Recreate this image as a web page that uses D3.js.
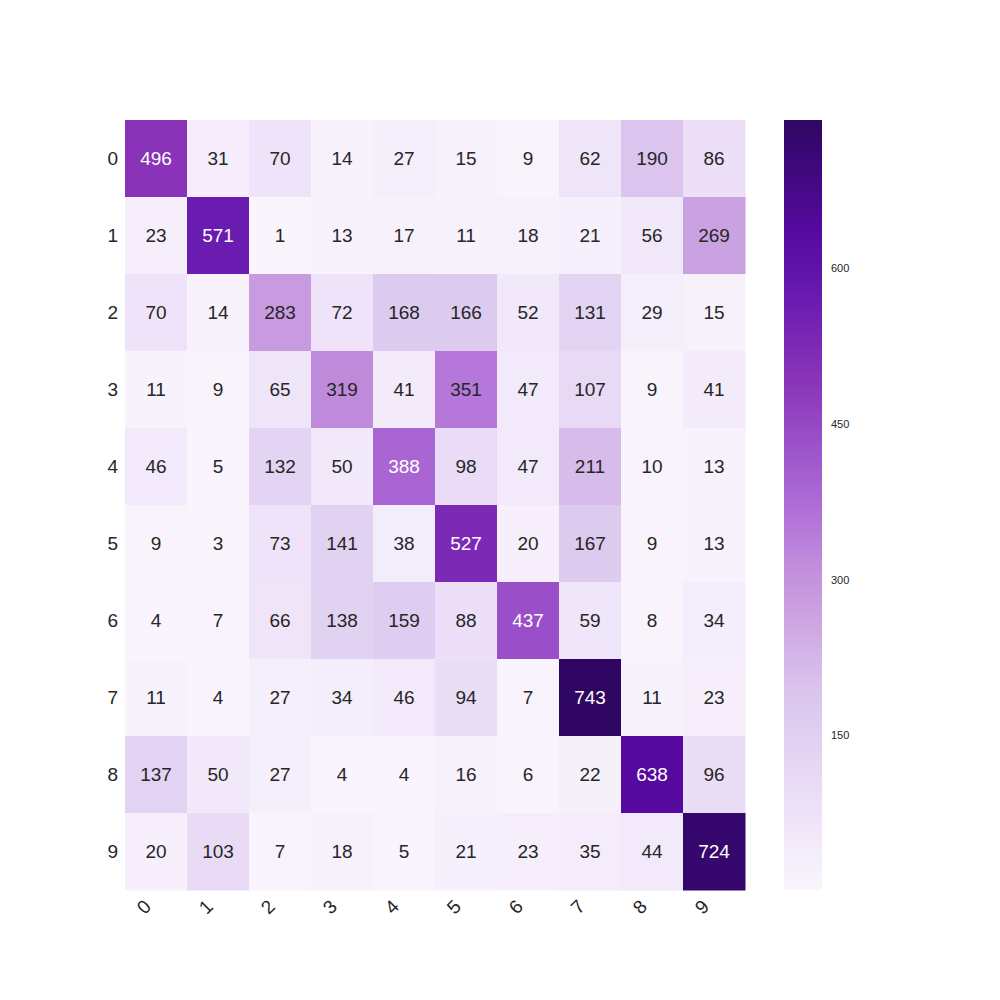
<!DOCTYPE html>
<html>
<head>
<meta charset="utf-8">
<script src="https://cdn.jsdelivr.net/npm/d3@7"></script>
<style>
  body { margin: 0; background: #fff; }
  text { font-family: "Liberation Sans", Arial, sans-serif; }
</style>
</head>
<body>
<div id="chart"></div>
<script>
const classes = ['0', '1', '2', '3', '4', '5', '6', '7', '8', '9']
const matrix = [
  [496, 31, 70, 14, 27, 15, 9, 62, 190, 86],
  [23, 571, 1, 13, 17, 11, 18, 21, 56, 269],
  [70, 14, 283, 72, 168, 166, 52, 131, 29, 15],
  [11, 9, 65, 319, 41, 351, 47, 107, 9, 41],
  [46, 5, 132, 50, 388, 98, 47, 211, 10, 13],
  [9, 3, 73, 141, 38, 527, 20, 167, 9, 13],
  [4, 7, 66, 138, 159, 88, 437, 59, 8, 34],
  [11, 4, 27, 34, 46, 94, 7, 743, 11, 23],
  [137, 50, 27, 4, 4, 16, 6, 22, 638, 96],
  [20, 103, 7, 18, 5, 21, 23, 35, 44, 724]
]
const colorbarTicks = [150, 300, 450, 600]

const width = 1000
const height = 1000
const margin = { left: 125, top: 120, right: 255, bottom: 110 }
const cbar = { x: 784, width: 38 }

const flat = matrix.flat()
const vmin = d3.min(flat)
const vmax = d3.max(flat)

// colour stops (fraction of range -> colour)
const stopVals = [0, 0.074, 0.115, 0.225, 0.255, 0.361, 0.38, 0.429, 0.472, 0.522, 0.667, 0.768, 0.858, 1]
const stopCols = ['#faf5fd', '#f0e7f9', '#ecdff7', '#dccbef', '#dbc5ee', '#cba2e1', '#c89ae0',
  '#c08adb', '#b577da', '#a865d3', '#8833b8', '#6a1bb0', '#55099e', '#2f0762']
const color = d3.scaleLinear()
  .domain(stopVals.map(t => vmin + t * (vmax - vmin)))
  .range(stopCols)
  .interpolate(d3.interpolateRgb)
  .clamp(true)

const svg = d3.select('#chart').append('svg')
  .attr('width', width)
  .attr('height', height)

const x = d3.scaleBand()
  .domain(classes)
  .range([margin.left, width - margin.right])
const y = d3.scaleBand()
  .domain(classes)
  .range([margin.top, height - margin.bottom])

const cells = svg.append('g')
  .selectAll('g')
  .data(flat.map((v, i) => ({ r: classes[Math.floor(i / 10)], c: classes[i % 10], v })))
  .join('g')

cells.append('rect')
  .attr('x', d => x(d.c))
  .attr('y', d => y(d.r))
  .attr('width', x.bandwidth() + 0.5)
  .attr('height', y.bandwidth() + 0.5)
  .attr('fill', d => color(d.v))

const lum = c => {
  const rgb = d3.rgb(c)
  const f = v => { v /= 255; return v <= 0.03928 ? v / 12.92 : Math.pow((v + 0.055) / 1.055, 2.4) }
  return 0.2126 * f(rgb.r) + 0.7152 * f(rgb.g) + 0.0722 * f(rgb.b)
}

cells.append('text')
  .attr('x', d => x(d.c) + x.bandwidth() / 2)
  .attr('y', d => y(d.r) + y.bandwidth() / 2)
  .attr('text-anchor', 'middle')
  .attr('dominant-baseline', 'central')
  .style('font-size', '19px')
  .attr('fill', d => lum(color(d.v)) > 0.25 ? '#262626' : '#ffffff')
  .text(d => d.v)

// y labels
svg.append('g')
  .selectAll('text')
  .data(classes)
  .join('text')
  .attr('x', margin.left - 7)
  .attr('y', d => y(d) + y.bandwidth() / 2)
  .attr('text-anchor', 'end')
  .attr('dominant-baseline', 'central')
  .style('font-size', '19px')
  .attr('fill', '#262626')
  .text(d => d)

// x labels, rotated
svg.append('g')
  .selectAll('text')
  .data(classes)
  .join('text')
  .attr('transform', d => `translate(${x(d) + x.bandwidth() / 2 - 12},${height - margin.bottom + 17}) rotate(-45)`)
  .attr('text-anchor', 'middle')
  .attr('dominant-baseline', 'central')
  .style('font-size', '19px')
  .attr('fill', '#262626')
  .text(d => d)

// colorbar
const cy = d3.scaleLinear()
  .domain([vmin, vmax])
  .range([height - margin.bottom, margin.top])

const defs = svg.append('defs')
const grad = defs.append('linearGradient')
  .attr('id', 'cbar-grad')
  .attr('x1', 0).attr('x2', 0)
  .attr('y1', 1).attr('y2', 0)
grad.selectAll('stop')
  .data(stopVals)
  .join('stop')
  .attr('offset', d => d)
  .attr('stop-color', (d, i) => stopCols[i])

svg.append('rect')
  .attr('x', cbar.x)
  .attr('y', margin.top)
  .attr('width', cbar.width)
  .attr('height', height - margin.top - margin.bottom)
  .attr('fill', 'url(#cbar-grad)')

svg.append('g')
  .selectAll('text')
  .data(colorbarTicks)
  .join('text')
  .attr('x', cbar.x + cbar.width + 9)
  .attr('y', d => cy(d))
  .attr('dominant-baseline', 'central')
  .style('font-size', '11px')
  .attr('fill', '#262626')
  .text(d => d)
</script>
</body>
</html>
